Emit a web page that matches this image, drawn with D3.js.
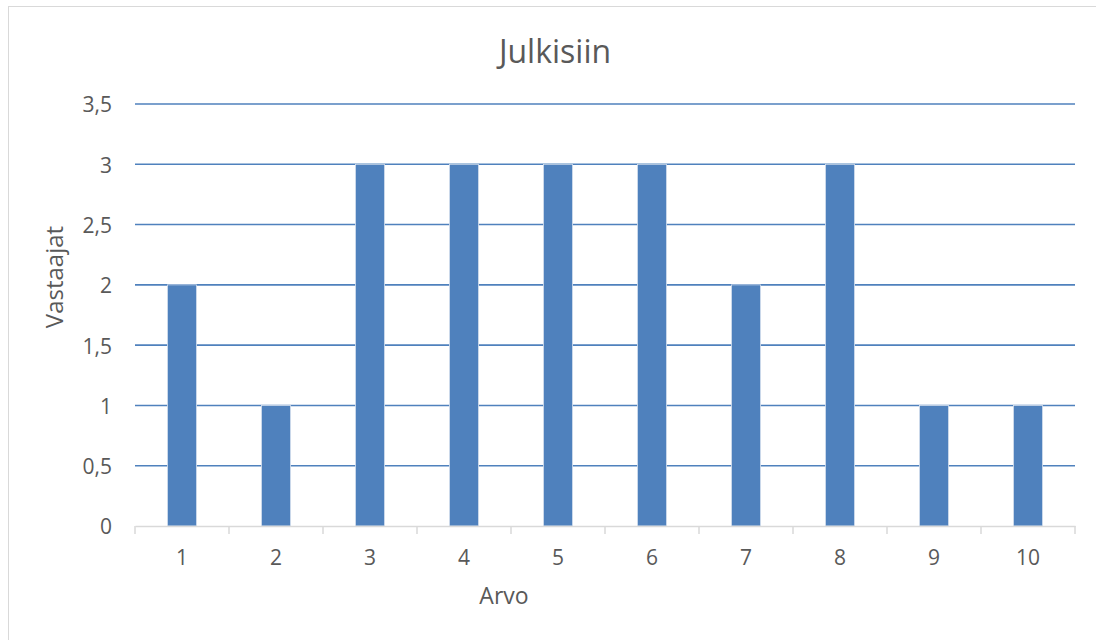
<!DOCTYPE html>
<html>
<head>
<meta charset="utf-8">
<script src="https://cdn.jsdelivr.net/npm/d3@7"></script>
<style>
  html, body { margin: 0; padding: 0; background: #fff; }
  svg { display: block; }
  svg text { font-family: "Open Sans", "Noto Sans", sans-serif; }
</style>
</head>
<body>
<svg id="chart" width="1096" height="640"></svg>
<script>
// Responses per rating value
const categories = ["1", "2", "3", "4", "5", "6", "7", "8", "9", "10"];
const respondents = [2, 1, 3, 3, 3, 3, 2, 3, 1, 1];
const yTicks = [0, 0.5, 1, 1.5, 2, 2.5, 3, 3.5];
const yTickLabels = ["0", "0,5", "1", "1,5", "2", "2,5", "3", "3,5"];

const title = "Julkisiin";
const xTitle = "Arvo";
const yTitle = "Vastaajat";

const barColor = "#4f81bd";
const textColor = "#595959";
const FONT = '"Open Sans", "Noto Sans", sans-serif';

const svg = d3.select("#chart");
const W = 1096, H = 640;
const margin = { left: 135, right: 21, top: 104, bottom: 114 };
const plotW = W - margin.left - margin.right;
const plotH = H - margin.top - margin.bottom;

// Outer chart frame
svg.append("rect")
  .attr("x", 8.5).attr("y", 6.5)
  .attr("width", W + 20).attr("height", H + 20)
  .attr("fill", "#fff").attr("stroke", "#d9d9d9").attr("stroke-width", 1);

const g = svg.append("g").attr("transform", `translate(${margin.left},${margin.top})`);

const x = d3.scaleBand().domain(categories).range([0, plotW]).paddingInner(0.69).paddingOuter(0.345);
const xOuter = d3.scaleBand().domain(categories).range([0, plotW]);
const y = d3.scaleLinear().domain([0, 3.5]).range([plotH, 0]);

// Horizontal gridlines
g.append("g")
  .selectAll("line")
  .data(yTicks.filter(d => d > 0))
  .join("line")
  .attr("x1", 0).attr("x2", plotW)
  .attr("y1", d => y(d)).attr("y2", d => y(d))
  .attr("stroke", barColor).attr("stroke-width", 1.6);

// Bars
g.append("g")
  .selectAll("rect")
  .data(categories.map((c, i) => ({ c, v: respondents[i] })))
  .join("rect")
  .attr("x", d => x(d.c))
  .attr("y", d => y(d.v))
  .attr("width", x.bandwidth())
  .attr("height", d => y(0) - y(d.v))
  .attr("fill", barColor)
  .attr("stroke", "#d6e0ee").attr("stroke-width", 0.8);

// Y axis labels
const yAxis = d3.axisLeft(y).tickValues(yTicks)
  .tickFormat((d, i) => yTickLabels[i]).tickSize(0).tickPadding(23);
const yAx = g.append("g").call(yAxis)
  .attr("font-family", FONT).attr("font-size", 21);
yAx.select(".domain").remove();
yAx.selectAll("text").attr("fill", textColor).attr("dy", "0.38em");

// X axis with boundary ticks
const xAxis = d3.axisBottom(xOuter).tickSize(0).tickPadding(24);
const xAx = g.append("g").attr("transform", `translate(0,${plotH})`).call(xAxis)
  .attr("font-family", FONT).attr("font-size", 21);
xAx.select(".domain").attr("stroke", "#d9d9d9").attr("stroke-width", 1.5);
xAx.selectAll("text").attr("fill", textColor);
xAx.selectAll(".tick line").remove();
const bounds = categories.map(c => xOuter(c)).concat([plotW]);
xAx.append("g").selectAll("line")
  .data(bounds).join("line")
  .attr("x1", d => d).attr("x2", d => d)
  .attr("y1", 0).attr("y2", 8)
  .attr("stroke", "#d9d9d9").attr("stroke-width", 1.5);

// Titles
svg.append("text")
  .attr("x", 555).attr("y", 63)
  .attr("text-anchor", "middle")
  .attr("fill", textColor).attr("font-family", FONT).attr("font-size", 32)
  .text(title);

svg.append("text")
  .attr("x", 504).attr("y", 604)
  .attr("text-anchor", "middle")
  .attr("fill", textColor).attr("font-family", FONT).attr("font-size", 23)
  .text(xTitle);

svg.append("text")
  .attr("transform", "translate(63,277) rotate(-90)")
  .attr("text-anchor", "middle")
  .attr("fill", textColor).attr("font-family", FONT).attr("font-size", 24)
  .text(yTitle);
</script>
</body>
</html>
